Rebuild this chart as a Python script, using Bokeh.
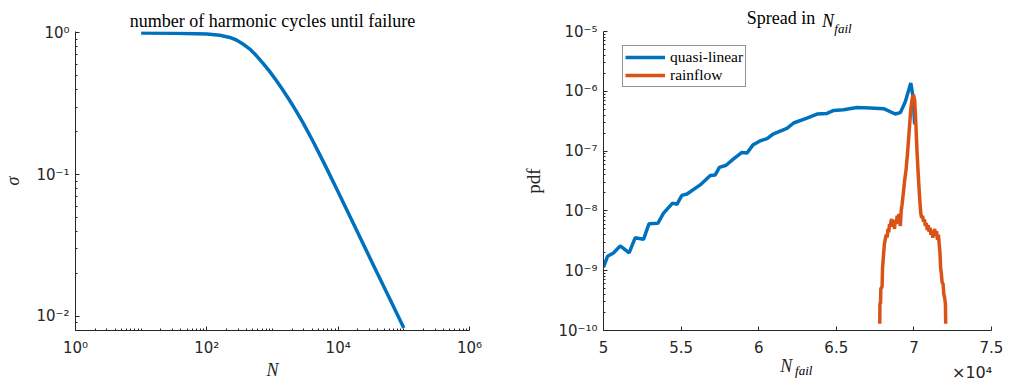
from bokeh.plotting import figure
from bokeh.layouts import row
from bokeh.models import (FixedTicker, CustomJSTickFormatter, Title, LinearAxis,
                          Legend, LegendItem)
from bokeh.embed import file_html
from bokeh.resources import INLINE

# ---------------- data: left panel (S-N curve) ----------------
N_cycles = [10, 31.6, 100, 158, 224, 282, 355, 447, 562, 708, 891, 1122, 1413,
            1778, 2239, 2951, 4169, 6310, 10000, 17783, 31623, 56234, 100000]
sigma = [1.000, 0.9954, 0.9817, 0.9616, 0.9290, 0.8913, 0.8356, 0.7727, 0.6950,
         0.6152, 0.5395, 0.4667, 0.3999, 0.3404, 0.2864, 0.2301, 0.1706, 0.1167,
         0.0753, 0.0434, 0.0249, 0.01436, 0.00826]

# ---------------- data: right panel (pdf of N_fail, x in units of 1e4) ----------------
ql_x = [5.000, 5.026, 5.064, 5.108, 5.165, 5.204, 5.258, 5.293, 5.350, 5.387,
        5.445, 5.473, 5.505, 5.538, 5.623, 5.688, 5.720, 5.747, 5.790, 5.838,
        5.892, 5.925, 5.962, 6.008, 6.054, 6.096, 6.182, 6.225, 6.311, 6.376,
        6.440, 6.483, 6.547, 6.634, 6.720, 6.805, 6.880, 6.913, 6.945, 6.980,
        6.995, 7.005]
ql_pdf = [1.15e-9, 1.74e-9, 1.98e-9, 2.6e-9, 1.98e-9, 3.55e-9, 3.35e-9, 6.1e-9,
          6.2e-9, 9.2e-9, 1.35e-8, 1.29e-8, 1.82e-8, 1.92e-8, 2.72e-8, 3.9e-8,
          4.0e-8, 5.35e-8, 5.8e-8, 7.4e-8, 9.5e-8, 9.3e-8, 1.26e-7, 1.48e-7,
          1.62e-7, 1.95e-7, 2.4e-7, 2.95e-7, 3.55e-7, 4.17e-7, 4.27e-7, 4.79e-7,
          4.9e-7, 5.37e-7, 5.25e-7, 5.13e-7, 4.17e-7, 4.4e-7, 6.76e-7, 1.38e-6,
          7.9e-7, 2.8e-7]

rf_x = [6.780, 6.781, 6.785, 6.787, 6.795, 6.798, 6.805, 6.810, 6.816, 6.822,
        6.828, 6.833, 6.838, 6.843, 6.848, 6.853, 6.859, 6.864, 6.870, 6.875,
        6.880, 6.886, 6.892, 6.898, 6.903, 6.908, 6.913, 6.918, 6.924, 6.932,
        6.940, 6.950, 6.960, 6.970, 6.980, 6.990, 6.997, 7.005, 7.012, 7.020,
        7.028, 7.035, 7.040, 7.045, 7.050, 7.056, 7.062, 7.068, 7.074, 7.080,
        7.086, 7.092, 7.098, 7.104, 7.110, 7.116, 7.122, 7.128, 7.134, 7.140,
        7.146, 7.152, 7.158, 7.164, 7.168, 7.172, 7.177, 7.182, 7.188, 7.193,
        7.198, 7.203, 7.205]
rf_pdf = [1.3e-10, 2.8e-10, 2.9e-10, 5.0e-10, 5.4e-10, 1.12e-9, 1.95e-9, 2.8e-9,
          3.4e-9, 4.0e-9, 3.6e-9, 5.0e-9, 4.4e-9, 6.0e-9, 5.5e-9, 6.9e-9, 7.2e-9,
          5.4e-9, 6.3e-9, 5.0e-9, 7.1e-9, 6.0e-9, 8.3e-9, 6.3e-9, 8.9e-9, 6.6e-9,
          5.6e-9, 1.0e-8, 1.29e-8, 2.0e-8, 3.16e-8, 5.0e-8, 1.0e-7, 2.24e-7,
          5.0e-7, 7.9e-7, 8.7e-7, 7.1e-7, 3.16e-7, 1.0e-7, 4.0e-8, 2.0e-8,
          1.26e-8, 8.9e-9, 7.6e-9, 8.3e-9, 6.6e-9, 7.2e-9, 5.6e-9, 6.3e-9,
          4.8e-9, 5.75e-9, 4.5e-9, 5.25e-9, 4.0e-9, 4.7e-9, 3.55e-9, 4.4e-9,
          5.0e-9, 3.8e-9, 4.6e-9, 3.3e-9, 4.0e-9, 2.6e-9, 2.0e-9, 1.12e-9,
          8.9e-10, 6.3e-10, 6.0e-10, 4.0e-10, 3.55e-10, 2.8e-10, 1.3e-10]

left_x_ticks = [1, 100, 1e4, 1e6]
left_y_ticks = [0.01, 0.1, 1]
right_x_ticks = [5, 5.5, 6, 6.5, 7, 7.5]
right_y_ticks = [1e-10, 1e-9, 1e-8, 1e-7, 1e-6, 1e-5]

left_title = "number of harmonic cycles until failure"
right_title_parts = ["Spread in", "N", "fail"]
legend_labels = ["quasi-linear", "rainflow"]

BLUE = "#0072BD"
ORANGE = "#D95319"
AX = "#262626"
SERIF = "Liberation Serif"
SANS = "DejaVu Sans"
TICKFS = "15px"
NBSP = "\u00a0"

sup_js = r"""
const sup = {"0":"\u2070","1":"\u00b9","2":"\u00b2","3":"\u00b3","4":"\u2074",
             "5":"\u2075","6":"\u2076","7":"\u2077","8":"\u2078","9":"\u2079","-":"\u207b"};
const e = Math.round(Math.log10(tick));
return "10" + String(e).split("").map(c => sup[c]).join("");
"""


def minor_log(lo, hi):
    out = []
    for k in range(lo, hi):
        for m in range(1, 10):
            out.append(m * 10.0 ** k)
    return out


def style_axis(ax):
    ax.axis_line_color = AX
    ax.major_tick_line_color = AX
    ax.minor_tick_line_color = AX
    ax.major_tick_in = 4
    ax.major_tick_out = 0
    ax.minor_tick_in = 2
    ax.minor_tick_out = 0
    ax.major_label_text_color = AX
    ax.major_label_text_font = SANS
    ax.major_label_text_font_size = TICKFS
    ax.axis_label_text_font = SERIF
    ax.axis_label_text_font_size = "18px"
    ax.axis_label_text_color = AX


def text_axis(pos_x, text, font_size, italic, standoff, font=SERIF):
    """An axis that only carries one piece of text (no line, no ticks)."""
    ax = LinearAxis(ticker=FixedTicker(ticks=[pos_x], minor_ticks=[]),
                    formatter=CustomJSTickFormatter(code="return %r;" % text))
    ax.axis_line_color = None
    ax.major_tick_line_color = None
    ax.minor_tick_line_color = None
    ax.major_tick_in = 0
    ax.major_tick_out = 0
    ax.major_label_standoff = standoff
    ax.major_label_text_font = font
    ax.major_label_text_font_size = font_size
    ax.major_label_text_font_style = "italic" if italic else "normal"
    ax.major_label_text_color = "black" if font == SERIF else AX
    return ax


# ---------------- left figure ----------------
p1 = figure(width=520, height=384, x_axis_type="log", y_axis_type="log",
            x_range=(1, 1e6), y_range=(10 ** -2.1, 10 ** 0.01),
            toolbar_location=None, output_backend="svg", title=None,
            min_border_left=71, min_border_right=51, min_border_top=31,
            min_border_bottom=53)
p1.outline_line_color = None
p1.grid.visible = False
p1.line(N_cycles, sigma, line_color=BLUE, line_width=3.5)

xa = p1.xaxis[0]
xa.ticker = FixedTicker(ticks=left_x_ticks, minor_ticks=minor_log(0, 6))
xa.formatter = CustomJSTickFormatter(code=sup_js)
style_axis(xa)
xa.major_label_standoff = 8
xa.axis_label = "N"
xa.axis_label_text_font_style = "italic"
xa.axis_label_standoff = 0
ya = p1.yaxis[0]
ya.ticker = FixedTicker(ticks=left_y_ticks, minor_ticks=minor_log(-3, 0))
ya.formatter = CustomJSTickFormatter(code=sup_js)
style_axis(ya)
ya.major_label_standoff = 6
ya.axis_label = "σ"
ya.axis_label_text_font_style = "italic"
ya.axis_label_standoff = 10

p1.add_layout(Title(text=left_title, align="center", text_font=SERIF,
                    text_font_size="18px", text_font_style="normal",
                    text_color="black", standoff=0, vertical_align="middle"), "above")

# ---------------- right figure ----------------
p2 = figure(width=489, height=384, y_axis_type="log",
            x_range=(5, 7.5), y_range=(1e-10, 1e-5),
            toolbar_location=None, output_backend="svg", title=None,
            min_border_left=83, min_border_right=18, min_border_top=29,
            min_border_bottom=53)
p2.outline_line_color = None
p2.grid.visible = False
r1 = p2.line(ql_x, ql_pdf, line_color=BLUE, line_width=3.5)
r2 = p2.line(rf_x, rf_pdf, line_color=ORANGE, line_width=3.5)

xb = p2.xaxis[0]
xb.ticker = FixedTicker(ticks=right_x_ticks, minor_ticks=[])
xb.formatter = CustomJSTickFormatter(code="return String(tick);")
style_axis(xb)
xb.major_label_standoff = 10
xb.axis_label = "N" + NBSP * 5
xb.axis_label_text_font_style = "italic"
xb.axis_label_standoff = 0
yb = p2.yaxis[0]
yb.ticker = FixedTicker(ticks=right_y_ticks, minor_ticks=minor_log(-10, -5))
yb.formatter = CustomJSTickFormatter(code=sup_js)
style_axis(yb)
yb.major_label_standoff = 6
yb.axis_label = "pdf"
yb.axis_label_text_font_size = "19px"
yb.axis_label_text_font_style = "normal"
yb.axis_label_standoff = 11

# subscript of the x label and the x10^4 multiplier
p2.add_layout(text_axis(6.290, "fail", "13px", True, -16), "below")
p2.add_layout(text_axis(7.375, "\u00d710\u2074", "16px", False, -18, font=SANS), "below")

# title "Spread in N_fail" (closest panel first)
p2.add_layout(text_axis(6.543, right_title_parts[2], "13px", True, -4), "above")
p2.add_layout(text_axis(6.447, right_title_parts[1], "18px", True, -13), "above")
p2.add_layout(text_axis(6.144, right_title_parts[0], "18px", False, -20), "above")

legend = Legend(items=[LegendItem(label=legend_labels[0], renderers=[r1]),
                       LegendItem(label=legend_labels[1], renderers=[r2])],
                location=(19, 243), glyph_width=40, glyph_height=16,
                label_height=17, label_standoff=5, padding=2, spacing=0, margin=0,
                label_text_font=SERIF, label_text_font_size="15.5px",
                label_text_color="black", border_line_color=AX,
                border_line_width=1, background_fill_alpha=1.0)
p2.add_layout(legend)

layout = row(p1, p2)
open("out.html", "w").write(file_html(layout, INLINE))
